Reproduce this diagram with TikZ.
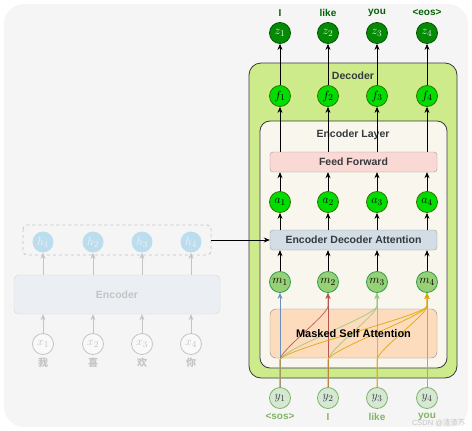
\documentclass[tikz,border=0pt]{standalone}
\usepackage{fontspec}
\setmainfont{Liberation Sans}
\newfontfamily\cjk{Noto Sans CJK SC}
\usetikzlibrary{arrows.meta,calc}
\definecolor{bgc}{HTML}{F5F5F5}
\definecolor{decfill}{HTML}{CDEB8B}
\definecolor{elfill}{HTML}{F9F7ED}
\definecolor{darkb}{HTML}{36393D}
\definecolor{fffill}{HTML}{FAD9D5}
\definecolor{edafill}{HTML}{D3DDE5}
\definecolor{msafill}{HTML}{FCDCBC}
\definecolor{zfill}{HTML}{058A05}
\definecolor{zdraw}{HTML}{005700}
\definecolor{ffill}{HTML}{00DD00}
\definecolor{fdraw}{HTML}{2D7600}
\definecolor{mfill}{HTML}{97D077}
\definecolor{mdraw}{HTML}{2D9E4A}
\definecolor{yfill}{HTML}{D5E8D4}
\definecolor{ydraw}{HTML}{82B366}
\definecolor{cblue}{HTML}{6C8EBF}
\definecolor{cred}{HTML}{B85450}
\definecolor{cgreen}{HTML}{9AC77D}
\definecolor{corange}{HTML}{E0A500}
\definecolor{fade}{HTML}{C4C4C4}
\definecolor{hfill}{HTML}{BCDDEE}
\definecolor{encfill}{HTML}{EBEFF4}
\tikzset{
  circ/.style={circle,minimum size=21pt,inner sep=0pt,line width=0.8pt,font=\fontsize{13}{14}\selectfont},
  zn/.style={circ,fill=zfill,draw=zdraw,text=white!85!gray},
  fn/.style={circ,fill=ffill,draw=fdraw},
  mn/.style={circ,fill=mfill,draw=mdraw},
  yn/.style={circ,fill=yfill,draw=ydraw,text=darkb},
  hn/.style={circ,fill=hfill,draw=none,text=white!90!gray},
  xn/.style={circ,fill=bgc!60!white,draw=fade,text=fade},
  toplab/.style={font=\bfseries\fontsize{10}{11}\selectfont,text=zfill!70!black},
  botlab/.style={font=\bfseries\fontsize{10}{11}\selectfont,text=ydraw},
  blk/.style={-{Stealth[length=6pt,width=5pt]},line width=0.7pt,black},
  gry/.style={-{Stealth[length=6pt,width=5pt]},line width=0.9pt,fade},
  att/.style={-{Stealth[length=6pt,width=5pt]},line width=0.8pt},
  boxlab/.style={font=\bfseries\fontsize{10.5}{12}\selectfont,text=darkb}
}
\begin{document}
\begin{tikzpicture}[x=1pt,y=-1pt]
\useasboundingbox (0,0) rectangle (472,431);
% background
\fill[bgc,rounded corners=20pt] (4,4) rectangle (468,427);
% decoder box
\draw[fill=decfill,draw=darkb,line width=0.8pt,rounded corners=12pt] (249,63) rectangle (457,378);
\node[boxlab] (declab) at (353,76) {Decoder};
\draw[fill=elfill,draw=darkb,line width=0.8pt,rounded corners=10pt] (260,121) rectangle (447,368);
\node[boxlab] (ellab) at (353,135) {Encoder Layer};
% boxes
\node[draw=gray!80,fill=fffill,rounded corners=3pt,minimum width=167pt,minimum height=20pt,boxlab] (ff) at (353.5,162) {Feed Forward};
\node[draw=gray!80,fill=edafill,rounded corners=3pt,minimum width=167pt,minimum height=20pt,boxlab] (eda) at (353.5,240) {Encoder Decoder Attention};
\node[draw=gray!90,fill=msafill,rounded corners=6pt,minimum width=167pt,minimum height=49pt] (msa) at (353.5,333.5) {};
% columns
\foreach \i/\x/\tl/\bl in {1/280/I/<sos>,2/328/like/I,3/377/you/like,4/427/<eos>/you}{
  \node[toplab] (t\i) at (\x,13) {\tl};
  \node[zn] (z\i) at (\x,33) {$z_\i$};
  \node[fn] (f\i) at (\x,96) {$f_\i$};
  \node[fn] (a\i) at (\x,202) {$a_\i$};
  \node[mn] (m\i) at (\x,282) {$m_\i$};
  \node[yn] (y\i) at (\x,398) {$y_\i$};
  \node[botlab] (b\i) at (\x,417) {\bl};
  \coordinate (br\i) at (\x,360);
  \coordinate (ct\i) at (\x,306);
  \draw[blk] (f\i) -- (z\i);
  \draw[blk] (ff.north -| f\i) -- (f\i);
  \draw[blk] (a\i) -- (ff.south -| a\i);
  \draw[blk] (eda.north -| a\i) -- (a\i);
  \draw[blk] (m\i) -- (eda.south -| m\i);
}
% masked self-attention connections
\foreach \i/\c in {1/cblue,2/cred,3/cgreen,4/corange}{
  \foreach \j in {1,...,4}{
    \ifnum\j<\i
      \draw[att,draw=\c,opacity=0.85] (y\j.north) -- (br\j) .. controls ($(br\j)+(0,-10)$) and ($(ct\i)+(0,9)$) .. (ct\i) -- (m\i.south);
    \fi
    \ifnum\j=\i
      \draw[att,draw=\c] (y\j.north) -- (m\i.south);
    \fi
  }
}
\node[font=\bfseries\fontsize{11}{12}\selectfont,text=black] (msalab) at (msa.center) {Masked Self Attention};
% encoder side (faded)
\draw[fade,dashed,line width=0.8pt,rounded corners=4pt] (23,225) rectangle (211,255);
\coordinate (hbr) at (211,240);
\node[draw=fade!70!white,fill=encfill,rounded corners=5pt,minimum width=206pt,minimum height=39pt,font=\bfseries\fontsize{10.5}{12}\selectfont,text=fade] (enc) at (117,294.5) {Encoder};
\foreach \i/\x/\ch in {1/43/我,2/93/喜,3/142/欢,4/191/你}{
  \node[hn] (h\i) at (\x,242) {$h_\i$};
  \node[xn] (x\i) at (\x,344) {$x_\i$};
  \node[font=\cjk\bfseries\fontsize{10}{11}\selectfont,text=fade] (c\i) at (\x,363) {\ch};
  \draw[gry] (x\i) -- (enc.south -| x\i);
  \draw[gry] (enc.north -| h\i) -- (h\i);
}
\draw[blk] (hbr) -- (eda.west);
% watermark
\node[font=\fontsize{7.5}{8}\selectfont,text=gray!55,opacity=0.8,anchor=east] (wm) at (469,423) {CSDN @{\cjk 渣渣苏}};
\end{tikzpicture}
\end{document}
